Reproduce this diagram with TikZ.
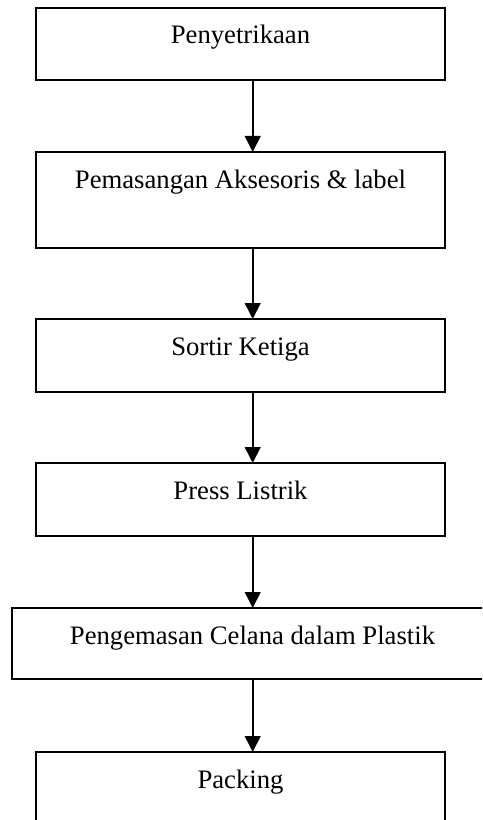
\documentclass[tikz,border=0pt]{standalone}
\usepackage{fontspec}
\setmainfont{Liberation Serif}
\usetikzlibrary{arrows.meta}

\tikzset{
  stepbox/.style={draw,line width=1.35pt,inner sep=0pt,outer sep=0pt,anchor=north west,
    minimum width=306.75pt,text height=27pt,font=\fontsize{20}{24}\selectfont},
  flow/.style={line width=1.35pt,-{Triangle[length=12pt,width=11.8pt]}}
}

\begin{document}
\begin{tikzpicture}[x=0.75pt,y=-0.75pt]
  \useasboundingbox (0,0) rectangle (482,820);
  \clip (0,0) rectangle (482,820);
  \node[stepbox,text depth=27pt] (setrika) at (36,8) {Penyetrikaan};
  \node[stepbox,text depth=45pt] (aksesoris) at (36,152) {Pemasangan Aksesoris \& label};
  \node[stepbox,text depth=27.75pt] (sortir) at (36,319) {Sortir Ketiga};
  \node[stepbox,text depth=27.75pt] (press) at (36,463) {Press Listrik};
  \node[stepbox,text depth=26.25pt,minimum width=360.75pt] (kemas) at (12,608) {Pengemasan Celana dalam Plastik};
  \node[stepbox,text depth=60pt] (packing) at (36,752) {Packing};
  \coordinate (ax) at (252.7,0);
  \foreach \a/\b in {setrika/aksesoris,aksesoris/sortir,sortir/press,press/kemas,kemas/packing}
    \draw[flow] (\a.south -| ax) -- (\b.north -| ax);
\end{tikzpicture}
\end{document}
